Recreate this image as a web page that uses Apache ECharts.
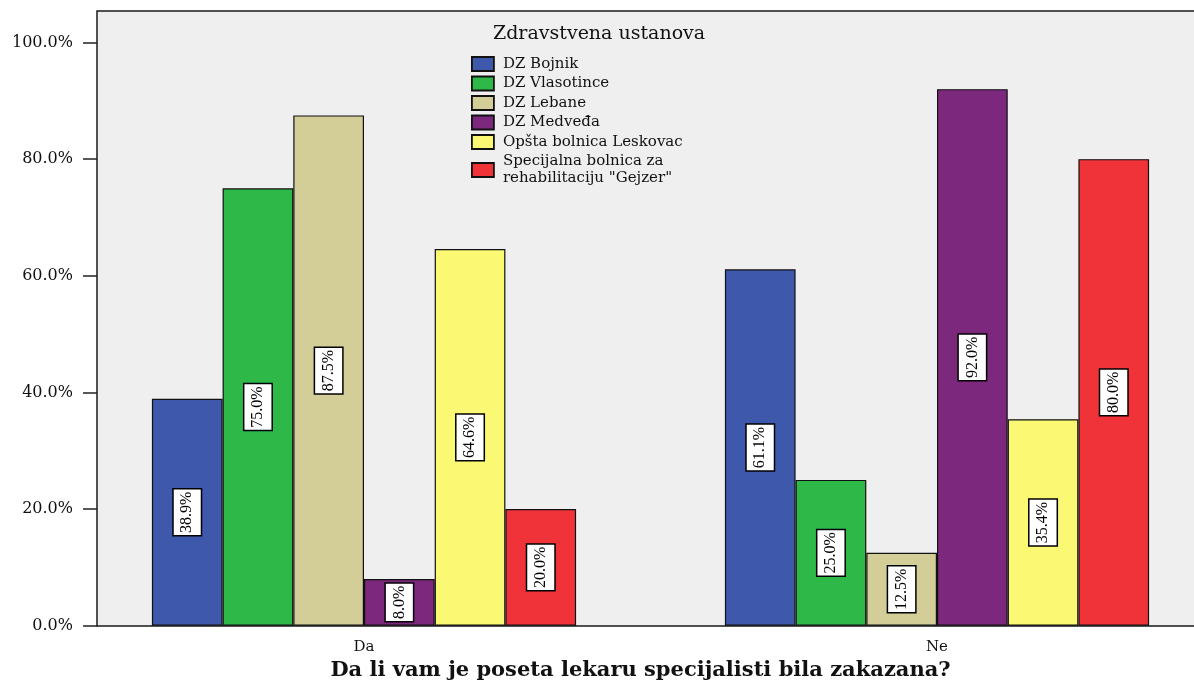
<!DOCTYPE html>
<html>
<head>
<meta charset="utf-8">
<title>Da li vam je poseta lekaru specijalisti bila zakazana?</title>
<script src="https://cdn.jsdelivr.net/npm/echarts@6/dist/echarts.min.js"></script>
<style>
  html, body { margin: 0; padding: 0; background: #fff; }
  #chart { width: 1194px; height: 683px; }
</style>
</head>
<body>
<div id="chart"></div>
<script>
const categories = ['Da', 'Ne'];
const institutions = [
  'DZ Bojnik',
  'DZ Vlasotince',
  'DZ Lebane',
  'DZ Medveđa',
  'Opšta bolnica Leskovac',
  'Specijalna bolnica za\nrehabilitaciju "Gejzer"'
];
// percent per institution, [Da, Ne]
const bojnik = [38.9, 61.1];
const vlasotince = [75.0, 25.0];
const lebane = [87.5, 12.5];
const medveda = [8.0, 92.0];
const leskovac = [64.6, 35.4];
const gejzer = [20.0, 80.0];
const yTicks = [0, 20, 40, 60, 80, 100];

const values = [bojnik, vlasotince, lebane, medveda, leskovac, gejzer];
const colors = ['#3e58ac', '#2eb848', '#d3ce97', '#7c287d', '#fbf873', '#ef3338'];
const serif = '"DejaVu Serif", serif';
const times = '"Liberation Serif", "Times New Roman", serif';

const chart = echarts.init(document.getElementById('chart'));

const option = {
  animation: false,
  color: colors,
  title: {
    text: 'Zdravstvena ustanova',
    left: 493,
    top: 25,
    padding: 0,
    textStyle: { fontFamily: serif, fontSize: 19, fontWeight: 'normal', color: '#111' }
  },
  legend: {
    data: institutions,
    orient: 'vertical',
    left: 471,
    top: 55.5,
    padding: 0,
    icon: 'rect',
    itemWidth: 22,
    itemHeight: 14,
    itemGap: 2.5,
    itemStyle: { borderColor: '#111', borderWidth: 1.8 },
    textStyle: {
      fontFamily: serif, fontSize: 15, color: '#111', lineHeight: 17,
      padding: [0, 0, 0, 4]
    }
  },
  graphic: [
    {
      type: 'rect',
      z: -10,
      shape: { x: 97, y: 11, width: 1140, height: 615 },
      style: { fill: '#efefef', stroke: '#1a1a1a', lineWidth: 1.5 }
    }
  ],
  grid: {
    left: 77.5,
    width: 1146,
    top: 42.5,
    bottom: 57.3,
    outerBoundsMode: 'none'
  },
  xAxis: {
    type: 'category',
    data: categories,
    axisLine: { show: false },
    axisTick: { alignWithLabel: true, length: 10, lineStyle: { color: '#222', width: 1.5 } },
    axisLabel: { margin: 14, fontFamily: serif, fontSize: 15, color: '#111' },
    name: 'Da li vam je poseta lekaru specijalisti bila zakazana?',
    nameLocation: 'middle',
    nameGap: 33,
    nameTextStyle: {
      fontFamily: serif, fontSize: 21, fontWeight: 'bold', color: '#111',
      padding: [0, 20, 0, 0]
    }
  },
  yAxis: {
    type: 'value',
    min: yTicks[0],
    max: yTicks[yTicks.length - 1],
    interval: 20,
    offset: -19.5,
    axisLine: { show: false },
    axisTick: { show: true, length: 14, lineStyle: { color: '#222', width: 1.5 } },
    axisLabel: {
      margin: 24,
      fontFamily: serif,
      fontSize: 16,
      color: '#111',
      formatter: v => v.toFixed(1) + '%'
    },
    splitLine: { show: false }
  },
  series: institutions.map((name, i) => ({
    name: name,
    type: 'bar',
    data: values[i],
    barWidth: 70.7,
    barGap: '0%',
    itemStyle: { borderColor: '#111', borderWidth: 1.2 },
    label: {
      show: true,
      position: 'inside',
      rotate: 90,
      formatter: p => p.value.toFixed(1) + '%',
      fontFamily: times,
      fontSize: 16,
      lineHeight: 16,
      color: '#000',
      backgroundColor: '#fff',
      borderColor: '#000',
      borderWidth: 1.5,
      padding: [6, 2, 5, 2]
    }
  }))
};

chart.setOption(option);
window.addEventListener('resize', function () {
  chart.resize();
});
</script>
</body>
</html>
